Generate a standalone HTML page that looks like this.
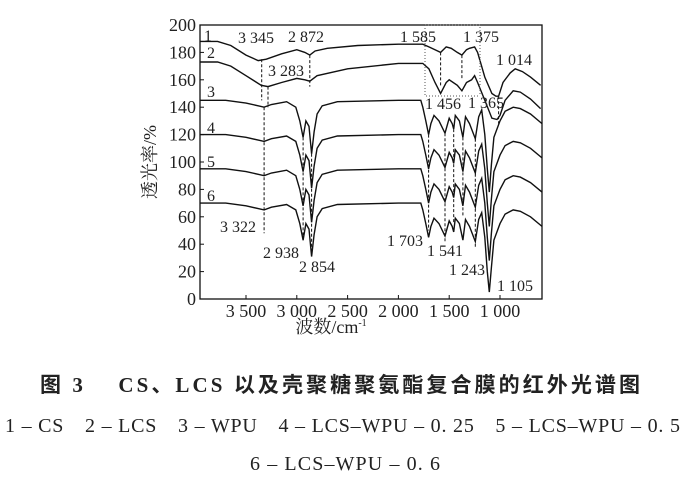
<!DOCTYPE html>
<html><head><meta charset="utf-8"><style>
body{margin:0;background:#fff;width:693px;height:496px;overflow:hidden}
svg{position:absolute;left:0;top:0}
.t{font-family:"Liberation Serif","Noto Serif CJK SC",serif;fill:#222}
</style></head><body>
<svg width="693" height="496" viewBox="0 0 693 496">
<g id="curves" fill="none" stroke="#111" stroke-width="1.4"></g>
<g id="dash" fill="none" stroke="#111" stroke-width="1" stroke-dasharray="3,2"></g>
<rect x="200" y="25" width="342" height="274" fill="none" stroke="#111" stroke-width="1.3"/>
<g stroke="#111" stroke-width="1" id="ticks"></g>
<g class="t" font-size="18" text-anchor="end" id="yl"></g>
<g class="t" font-size="18" text-anchor="middle" id="xl"></g>
<text class="t" x="331" y="333" font-size="18" text-anchor="middle">波数/cm<tspan font-size="10" dy="-7">-1</tspan></text>
<text class="t" font-size="18" transform="translate(156,162) rotate(-90)" text-anchor="middle">透光率/%</text>
<g class="t" font-size="16">
<text x="204" y="41">1</text><text x="207" y="58">2</text><text x="207" y="97">3</text>
<text x="207" y="133">4</text><text x="207" y="167">5</text><text x="207" y="201">6</text>
<text x="238" y="43">3 345</text><text x="288" y="42">2 872</text>
<text x="268" y="76">3 283</text><text x="400" y="42">1 585</text><text x="463" y="42">1 375</text>
<text x="496" y="65">1 014</text><text x="425" y="109">1 456</text><text x="468" y="108">1 365</text>
<text x="220" y="232">3 322</text><text x="263" y="258">2 938</text><text x="299" y="272">2 854</text>
<text x="387" y="246">1 703</text><text x="427" y="256">1 541</text><text x="449" y="275">1 243</text>
<text x="497" y="291">1 105</text>
</g>
<path d="M425 25H480V96M425 25V96H480" fill="none" stroke="#555" stroke-dasharray="1,2"/>
<text class="t" x="40" y="392" font-size="21" font-weight="bold" textLength="600" lengthAdjust="spacing" style="font-family:'Liberation Serif','Noto Sans CJK SC',serif">图 3　 CS、LCS 以及壳聚糖聚氨酯复合膜的红外光谱图</text>
<text class="t" x="5" y="432" font-size="20" textLength="675" lengthAdjust="spacing">1 – CS　2 – LCS　3 – WPU　4 – LCS–WPU – 0. 25　5 – LCS–WPU – 0. 5</text>
<text class="t" x="250" y="470" font-size="20" textLength="190" lengthAdjust="spacing">6 – LCS–WPU – 0. 6</text>
</svg>
<script>
const X=w=>246+(3500-w)*0.1016, Y=v=>299-v*1.37;
const c1=[[3953,188],[3780,188],[3650,185],[3500,178],[3380,174],[3300,175],[3150,179],[3000,182],[2920,180],[2872,178],[2820,181],[2700,183],[2400,185],[2000,186],[1760,186],[1700,184],[1640,182],[1585,180],[1530,184],[1480,183],[1420,180],[1375,178],[1330,182],[1300,183],[1250,184],[1220,180],[1150,162],[1080,150],[1040,148],[1014,148],[970,158],[900,165],[850,168],[780,166],[700,162],[600,156]];
const c2=[[3953,173],[3780,173],[3650,170],[3500,163],[3350,156],[3283,155],[3150,158],[3000,161],[2920,160],[2872,159],[2800,163],[2500,168],[2000,172],[1760,172],[1700,168],[1640,158],[1585,150],[1530,158],[1500,160],[1420,156],[1375,152],[1330,158],[1280,160],[1250,163],[1220,158],[1150,145],[1080,132],[1030,131],[1000,134],[950,145],[870,152],[800,151],[700,146],[600,139]];
const c3=[[3953,145],[3700,145],[3500,143],[3380,141],[3322,140],[3250,142],[3100,144],[3010,140],[2970,130],[2938,118],[2910,130],[2880,126],[2854,106],[2830,122],[2800,135],[2750,141],[2600,144],[2000,145],[1780,145],[1760,140],[1730,130],[1703,120],[1680,128],[1650,134],[1600,130],[1541,121],[1500,132],[1470,128],[1456,124],[1440,134],[1400,130],[1365,118],[1340,133],[1300,128],[1243,117],[1210,133],[1180,138],[1150,120],[1125,95],[1105,78],[1085,98],[1060,118],[1000,130],[950,137],[870,140],[800,139],[700,135],[587,128]];
let g=document.getElementById('curves'),s='';
function path(p,off){let d='';p.forEach((q,i)=>{if(q[0]<587)return;d+=(d?'L':'M')+X(q[0]).toFixed(1)+' '+Y(q[1]+off).toFixed(1)});return '<path d="'+d+'"/>';}
s+=path(c1,0)+path(c2,0);
[0,-25,-50,-75].forEach(o=>{let p=c3.map(q=>[q[0],q[0]==1105?Math.max(q[1]+o,5+ (o+75)*0.9):q[1]+o]);s+=path(p,0)});
g.innerHTML=s;
let d='';
[[3345,175,145],[3283,155,140],[2872,178,155],[1585,180,155],[1375,178,160],[1014,148,128],[3322,140,48],[2938,118,42],[2854,106,35],[1703,120,50],[1541,121,42],[1456,124,55],[1365,118,60],[1243,117,37]].forEach(a=>{d+='M'+X(a[0]).toFixed(1)+' '+Y(a[1])+'V'+Y(a[2])});
document.getElementById('dash').innerHTML='<path d="'+d+'"/>';
let t='',yl='',xl='';
for(let v=0;v<=200;v+=20){t+='<line x1="200" x2="204" y1="'+Y(v)+'" y2="'+Y(v)+'"/>';yl+='<text x="196" y="'+(Y(v)+6)+'">'+v+'</text>';}
[[3500,'3 500'],[3000,'3 000'],[2500,'2 500'],[2000,'2 000'],[1500,'1 500'],[1000,'1 000']].forEach(a=>{t+='<line x1="'+X(a[0])+'" x2="'+X(a[0])+'" y1="299" y2="295"/>';xl+='<text x="'+X(a[0])+'" y="317">'+a[1]+'</text>'});
document.getElementById('ticks').innerHTML=t;document.getElementById('yl').innerHTML=yl;document.getElementById('xl').innerHTML=xl;
</script>
</body></html>
